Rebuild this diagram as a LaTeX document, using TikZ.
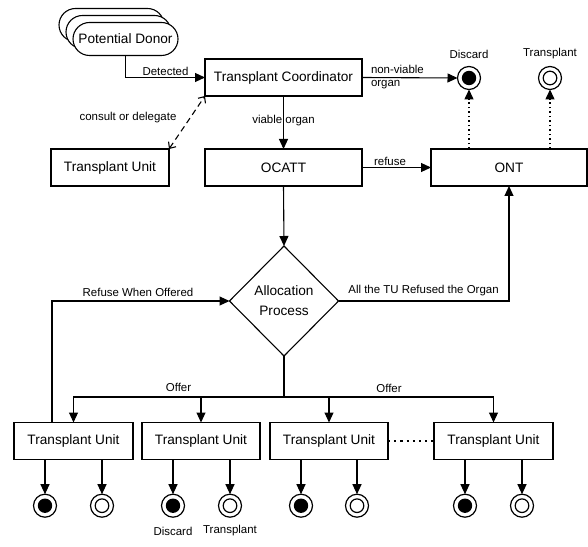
\documentclass[tikz,border=0pt]{standalone}
\usepackage{fontspec}
\setmainfont{Liberation Sans}
\usetikzlibrary{arrows.meta,shapes.geometric,shapes.misc}
\begin{document}
\begin{tikzpicture}[x=1bp,y=-1bp,
  every node/.style={inner sep=0pt, outer sep=0pt},
  box/.style={draw, line width=1.1pt, fill=white, minimum height=37bp, font=\fontsize{13.7}{15}\selectfont},
  lbl/.style={font=\fontsize{11.5}{13}\selectfont},
  arr/.style={line width=1.1pt, -{Triangle[length=10bp,width=9bp]}},
  ln/.style={line width=1.1pt},
  donor/.style={draw, line width=1.1pt, fill=white, rounded rectangle, minimum width=105bp, minimum height=33bp, font=\fontsize{13.7}{15}\selectfont},
  endd/.style={circle, draw, line width=1.2pt, minimum size=23bp, fill=white},
]
\useasboundingbox (0,0) rectangle (588,547);
\fill[white] (0,0) rectangle (588,547);

% Potential donor stack
\node[donor] (d3) at (111.5,25) {};
\node[donor] (d2) at (118.5,32) {};
\node[donor] (d1) at (125.5,39) {Potential Donor};

% top boxes
\node[box, minimum width=157bp] (tc) at (283.5,77.5) {Transplant Coordinator};
\node[box, minimum width=157bp] (ocatt) at (283.5,167.5) {OCATT};
\node[box, minimum width=118bp] (tu0) at (110,167.5) {Transplant Unit};
\node[box, minimum width=156bp] (ont) at (509,167.5) {ONT};

% end states top
\node[endd] (dis0) at (469,78) {};
\fill (dis0.center) circle (7.2bp);
\node[endd] (tra0) at (550,78) {};
\draw[line width=1.2pt] (tra0.center) circle (6.8bp);
\node[lbl] (ldis0) at (469,54) {Discard};
\node[lbl] (ltra0) at (550,54) {Transplant};

% diamond
\node[diamond, draw, line width=1.1pt, minimum width=109bp, minimum height=110bp, align=center, font=\fontsize{13.7}{20}\selectfont] (alloc) at (284,301) {Allocation\\Process};

% bottom TU boxes
\node[box, minimum width=119bp] (tu1) at (73.5,441) {Transplant Unit};
\node[box, minimum width=118bp] (tu2) at (201,441) {Transplant Unit};
\node[box, minimum width=118bp] (tu3) at (329,441) {Transplant Unit};
\node[box, minimum width=119bp] (tu4) at (493.5,441) {Transplant Unit};

% bottom end states
\foreach \i/\xd/\xt in {1/45/102, 2/173/230, 3/301/357, 4/465/522}{
  \node[endd] (dis\i) at (\xd,505.7) {};
  \fill (dis\i.center) circle (7.2bp);
  \node[endd] (tra\i) at (\xt,505.7) {};
  \draw[line width=1.2pt] (tra\i.center) circle (6.8bp);
  \draw[arr] (tu\i.south -| dis\i) -- (dis\i.north);
  \draw[arr] (tu\i.south -| tra\i) -- (tra\i.north);
}
\node[lbl] (ldis2) at (173,531) {Discard};
\node[lbl] (ltra2) at (230,531) {Transplant};

% connectors
\draw[arr] (d1.south) |- (tc.west);
\node[lbl, anchor=south] (ldet) at (165.5,75.5) {Detected};

\draw[arr] (tc.east) -- (dis0.west);
\node[lbl, anchor=west] (lnv1) at (371,69) {non-viable};
\node[lbl, anchor=west] (lnv2) at (371,84.5) {organ};

\draw[arr] (tc.south) -- (ocatt.north);
\node[lbl] (lvo) at (283.5,121) {viable organ};

\draw[line width=1.1pt, dash pattern=on 6bp off 4bp, {Straight Barb[length=5bp,width=9bp]}-{Straight Barb[length=5bp,width=9bp]}] (tu0.north east) -- (tc.south west);
\node[lbl] (lcd) at (128,118) {consult or delegate};

\draw[arr] (ocatt.east) -- (ont.west);
\node[lbl] (lref) at (390,161.5) {refuse};

\draw[arr, line width=1.5pt, dash pattern=on 1.5bp off 3bp] (ont.north -| dis0) -- (dis0.south);
\draw[arr, line width=1.5pt, dash pattern=on 1.5bp off 3bp] (ont.north -| tra0) -- (tra0.south);

\draw[arr] (ocatt.south) -- (alloc.north);

\draw[arr] (alloc.east) -| (ont.south);
\node[lbl] (lall) at (423.5,291) {All the TU Refused the Organ};

\draw[arr] (tu1.north -| 52,0) |- (alloc.west);
\node[lbl] (lrwo) at (138,292.5) {Refuse When Offered};

\coordinate (bar) at (284,397);
\draw[ln] (alloc.south) -- (bar);
\draw[arr] (bar) -| (tu1.north);
\draw[arr] (bar) -| (tu2.north);
\draw[arr] (bar) -| (tu3.north);
\draw[arr] (bar) -| (tu4.north);
\node[lbl] (loff1) at (178.5,387) {Offer};
\node[lbl] (loff2) at (389,388) {Offer};

\draw[line width=2.2pt, dash pattern=on 2.2bp off 4bp] (tu3.east) -- (tu4.west);
\end{tikzpicture}
\end{document}
